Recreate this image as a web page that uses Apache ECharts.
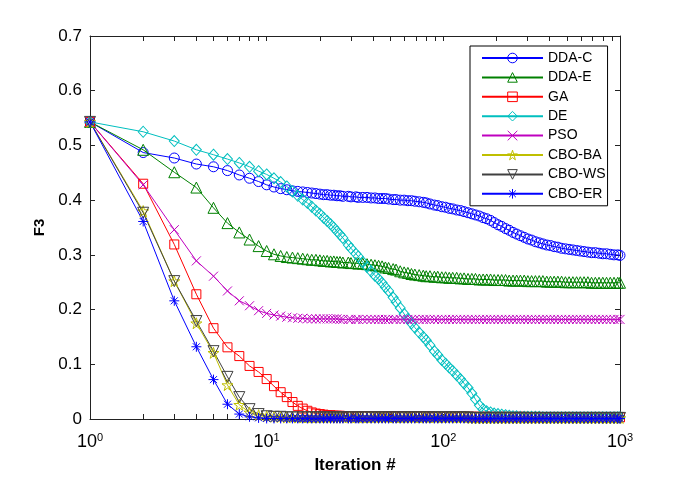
<!DOCTYPE html>
<html><head><meta charset="utf-8">
<script src="https://cdn.jsdelivr.net/npm/echarts@6/dist/echarts.min.js"></script>
<style>html,body{margin:0;padding:0;background:#fff}#c{width:685px;height:479px}</style>
</head><body><div id="c"></div>
<script>
// ---- data ----
const iterations = [1,2,3,4,5,6,7,8,9,10,
 11,12,13,14,15,16,17,18,19,20,
 21,22,23,24,25,26,27,29,30,32,
 33,35,37,39,41,43,45,47,49,52,
 54,57,60,63,66,69,73,77,80,84,
 89,93,98,103,108,113,119,125,131,138,
 145,152,160,168,176,185,194,204,214,225,
 236,248,260,273,287,301,316,332,349,366,
 385,404,424,445,467,491,515,541,568,596,
 626,658,690,725,761,799,839,881,925,971,
 1000];

const seriesNames = ['DDA-C','DDA-E','GA','DE','PSO','CBO-BA','CBO-WS','CBO-ER'];

const ddaC = [0.543,0.487,0.477,0.466,0.461,0.454,0.446,0.440,0.434,0.428,
 0.424,0.421,0.419,0.417,0.416,0.415,0.414,0.413,0.412,0.411,
 0.410,0.410,0.409,0.409,0.408,0.408,0.407,0.407,0.406,0.406,
 0.405,0.405,0.405,0.404,0.404,0.403,0.403,0.403,0.402,0.401,
 0.401,0.400,0.400,0.399,0.399,0.398,0.397,0.396,0.395,0.393,
 0.391,0.390,0.388,0.387,0.385,0.384,0.382,0.381,0.379,0.377,
 0.375,0.373,0.371,0.368,0.366,0.363,0.359,0.355,0.352,0.348,
 0.345,0.341,0.338,0.335,0.332,0.329,0.327,0.324,0.322,0.320,
 0.318,0.317,0.315,0.314,0.312,0.311,0.310,0.309,0.308,0.307,
 0.306,0.305,0.304,0.304,0.303,0.302,0.302,0.301,0.300,0.300,
 0.299];

const ddaE = [0.543,0.492,0.451,0.423,0.386,0.358,0.341,0.328,0.316,0.307,
 0.301,0.298,0.296,0.295,0.294,0.293,0.292,0.291,0.291,0.290,
 0.289,0.289,0.288,0.288,0.287,0.287,0.286,0.286,0.285,0.285,
 0.284,0.284,0.283,0.282,0.281,0.280,0.279,0.277,0.276,0.274,
 0.273,0.270,0.268,0.267,0.265,0.264,0.263,0.262,0.261,0.261,
 0.260,0.260,0.259,0.259,0.258,0.258,0.258,0.257,0.257,0.256,
 0.256,0.256,0.255,0.255,0.255,0.255,0.254,0.254,0.254,0.254,
 0.253,0.253,0.253,0.253,0.253,0.252,0.252,0.252,0.252,0.252,
 0.251,0.251,0.251,0.251,0.251,0.250,0.250,0.250,0.250,0.250,
 0.250,0.250,0.249,0.249,0.249,0.249,0.249,0.249,0.249,0.249,
 0.249];

const ga = [0.543,0.430,0.319,0.228,0.166,0.131,0.115,0.097,0.086,0.073,
 0.060,0.049,0.040,0.031,0.024,0.019,0.015,0.012,0.010,0.009,
 0.008,0.007,0.007,0.006,0.006,0.006,0.005,0.005,0.005,0.005,
 0.005,0.005,0.005,0.005,0.005,0.005,0.005,0.005,0.005,0.005,
 0.005,0.005,0.005,0.005,0.005,0.005,0.005,0.005,0.005,0.005,
 0.004,0.004,0.004,0.004,0.004,0.004,0.004,0.004,0.004,0.004,
 0.004,0.004,0.004,0.004,0.004,0.004,0.004,0.004,0.004,0.004,
 0.004,0.004,0.004,0.004,0.004,0.003,0.003,0.003,0.003,0.003,
 0.003,0.003,0.003,0.003,0.003,0.003,0.003,0.003,0.003,0.003,
 0.003,0.003,0.003,0.003,0.003,0.003,0.003,0.003,0.003,0.003,
 0.003];

const de = [0.543,0.525,0.508,0.492,0.483,0.475,0.468,0.461,0.453,0.447,
 0.440,0.433,0.425,0.416,0.408,0.401,0.395,0.388,0.381,0.375,
 0.368,0.362,0.356,0.350,0.343,0.337,0.331,0.318,0.312,0.302,
 0.297,0.287,0.278,0.270,0.262,0.256,0.249,0.241,0.234,0.222,
 0.214,0.203,0.192,0.183,0.175,0.167,0.158,0.150,0.144,0.135,
 0.124,0.117,0.108,0.101,0.094,0.088,0.080,0.073,0.065,0.057,
 0.047,0.036,0.025,0.018,0.014,0.012,0.010,0.009,0.008,0.007,
 0.006,0.005,0.005,0.004,0.004,0.004,0.004,0.004,0.004,0.003,
 0.003,0.003,0.003,0.003,0.003,0.003,0.003,0.003,0.003,0.003,
 0.003,0.003,0.003,0.003,0.003,0.003,0.003,0.003,0.003,0.003,
 0.003];

const pso = [0.543,0.428,0.346,0.289,0.261,0.234,0.216,0.207,0.198,0.193,
 0.190,0.188,0.186,0.185,0.184,0.184,0.183,0.183,0.183,0.183,
 0.183,0.183,0.183,0.183,0.183,0.182,0.182,0.182,0.182,0.182,
 0.182,0.182,0.182,0.182,0.182,0.182,0.182,0.182,0.182,0.182,
 0.182,0.182,0.182,0.182,0.182,0.182,0.182,0.182,0.182,0.182,
 0.182,0.182,0.182,0.182,0.182,0.182,0.182,0.182,0.182,0.182,
 0.182,0.182,0.182,0.182,0.182,0.182,0.182,0.182,0.182,0.182,
 0.182,0.182,0.182,0.182,0.182,0.182,0.182,0.182,0.182,0.182,
 0.182,0.182,0.182,0.182,0.182,0.182,0.182,0.182,0.182,0.182,
 0.182,0.182,0.182,0.182,0.182,0.182,0.182,0.182,0.182,0.182,
 0.182];

const cboBA = [0.543,0.380,0.252,0.175,0.121,0.062,0.026,0.012,0.007,0.005,
 0.004,0.004,0.003,0.003,0.003,0.003,0.003,0.003,0.003,0.003,
 0.003,0.003,0.003,0.003,0.003,0.003,0.003,0.003,0.003,0.003,
 0.003,0.003,0.003,0.003,0.003,0.003,0.003,0.003,0.003,0.003,
 0.003,0.003,0.003,0.003,0.003,0.003,0.003,0.003,0.003,0.003,
 0.003,0.003,0.003,0.003,0.003,0.003,0.003,0.003,0.003,0.003,
 0.002,0.002,0.002,0.002,0.002,0.002,0.002,0.002,0.002,0.002,
 0.002,0.002,0.002,0.002,0.002,0.002,0.002,0.002,0.002,0.002,
 0.002,0.002,0.002,0.002,0.002,0.002,0.002,0.002,0.002,0.002,
 0.002,0.002,0.002,0.002,0.002,0.002,0.002,0.002,0.002,0.002,
 0.002];

const cboWS = [0.543,0.377,0.252,0.179,0.124,0.077,0.040,0.018,0.009,0.005,
 0.004,0.004,0.003,0.003,0.003,0.003,0.003,0.003,0.003,0.003,
 0.003,0.003,0.003,0.003,0.003,0.003,0.003,0.003,0.003,0.003,
 0.003,0.003,0.003,0.003,0.003,0.003,0.003,0.003,0.003,0.003,
 0.003,0.003,0.003,0.003,0.003,0.003,0.003,0.003,0.003,0.003,
 0.003,0.003,0.003,0.003,0.003,0.003,0.003,0.003,0.003,0.003,
 0.002,0.002,0.002,0.002,0.002,0.002,0.002,0.002,0.002,0.002,
 0.002,0.002,0.002,0.002,0.002,0.002,0.002,0.002,0.002,0.002,
 0.002,0.002,0.002,0.002,0.002,0.002,0.002,0.002,0.002,0.002,
 0.002,0.002,0.002,0.002,0.002,0.002,0.002,0.002,0.002,0.002,
 0.002];

const cboER = [0.543,0.361,0.216,0.132,0.072,0.027,0.009,0.004,0.002,0.001,
 0.001,0.001,0.001,0.001,0.001,0.001,0.001,0.001,0.001,0.001,
 0.001,0.001,0.001,0.001,0.001,0.001,0.001,0.001,0.001,0.001,
 0.001,0.001,0.001,0.001,0.001,0.001,0.001,0.001,0.001,0.001,
 0.001,0.001,0.001,0.001,0.001,0.001,0.001,0.001,0.001,0.001,
 0.001,0.001,0.001,0.001,0.001,0.001,0.001,0.001,0.001,0.001,
 0.001,0.001,0.001,0.001,0.001,0.001,0.001,0.001,0.001,0.001,
 0.001,0.001,0.001,0.001,0.001,0.001,0.001,0.001,0.001,0.001,
 0.001,0.001,0.001,0.001,0.001,0.001,0.001,0.001,0.001,0.001,
 0.001,0.001,0.001,0.001,0.001,0.001,0.001,0.001,0.001,0.001,
 0.001];

const xMajorTicks = [1,10,100,1000];
const xAllTicks = [1,2,3,4,5,6,7,8,9,10,20,30,40,50,60,70,80,90,100,200,300,400,500,600,700,800,900,1000];
const yTicks = [0,0.1,0.2,0.3,0.4,0.5,0.6,0.7];

// ---- styling ----
const FONT = 'Liberation Sans, Arial, Helvetica, sans-serif';
const colors = ['#0000FF','#008000','#FF0000','#00BFBF','#BF00BF','#BFBF00','#404040','#0000FF'];
const symbols = [
  'circle',
  'triangle',
  'rect',
  'diamond',
  'path://M0,0L10,10M10,0L0,10',
  'path://M50,0L61,35L98,35L68,57L79,91L50,70L21,91L32,57L2,35L39,35Z',
  'path://M0,0L10,0L5,10Z',
  'path://M5,0L5,10M0,5L10,5M1.5,1.5L8.5,8.5M8.5,1.5L1.5,8.5'
];
const symSizes = [10, 11, 9, [10,11], 9, 11, 11, 10];
const valueSets = [ddaC, ddaE, ga, de, pso, cboBA, cboWS, cboER];

const series = seriesNames.map((name, k) => ({
  name: name,
  type: 'line',
  xAxisIndex: 0, yAxisIndex: 0,
  data: iterations.map((n, i) => [n, valueSets[k][i]]),
  symbol: symbols[k],
  symbolSize: symSizes[k],
  showSymbol: true,
  showAllSymbol: true,
  clip: false,
  lineStyle: { color: colors[k], width: 1 },
  itemStyle: { color: 'rgba(255,255,255,0)', borderColor: colors[k], borderWidth: 1 },
  emphasis: { disabled: true },
  animation: false
}));

const axisLineStyle = { color: '#222', width: 1 };

const option = {
  animation: false,
  backgroundColor: '#fff',
  textStyle: { fontFamily: FONT },
  grid: { left: 90, right: 65, top: 36, bottom: 59, containLabel: false },
  legend: {
    data: seriesNames,
    orient: 'vertical',
    left: 470, top: 46,
    padding: [5, 2, 5, 11],
    itemWidth: 61, itemHeight: 12, itemGap: 5.4,
    backgroundColor: '#fff',
    borderColor: '#000', borderWidth: 1, borderRadius: 0,
    itemStyle: { color: 'rgba(255,255,255,0)', borderWidth: 1 },
    textStyle: { fontFamily: FONT, fontSize: 14, color: '#000' }
  },
  xAxis: [{
    type: 'log', logBase: 10, min: 1, max: 1000, position: 'bottom',
    name: 'Iteration #', nameLocation: 'middle', nameGap: 38,
    nameTextStyle: { fontFamily: FONT, fontSize: 17, fontWeight: 'bold', color: '#000' },
    axisLine: { show: true, lineStyle: axisLineStyle, onZero: false },
    axisTick: { show: true, inside: true, length: 5, lineStyle: axisLineStyle, customValues: xAllTicks },
    axisLabel: {
      show: true, margin: 13, color: '#000', customValues: xMajorTicks,
      formatter: v => '{b|10}{s|' + Math.round(Math.log10(v)) + '}',
      rich: {
        b: { fontFamily: FONT, fontSize: 18, color: '#000' },
        s: { fontFamily: FONT, fontSize: 11, color: '#000', padding: [0, 0, 10, 0] }
      }
    },
    splitLine: { show: false }, minorTick: { show: false }
  }, {
    type: 'log', logBase: 10, min: 1, max: 1000, position: 'top',
    axisLine: { show: true, lineStyle: axisLineStyle, onZero: false },
    axisTick: { show: true, inside: true, length: 5, lineStyle: axisLineStyle, customValues: xAllTicks },
    axisLabel: { show: false },
    splitLine: { show: false }
  }],
  yAxis: [{
    type: 'value', min: 0, max: 0.7, interval: 0.1, position: 'left',
    name: 'F3', nameLocation: 'middle', nameGap: 36, nameRotate: 90,
    nameTextStyle: { fontFamily: FONT, fontSize: 15, fontWeight: 'bold', color: '#000' },
    axisLine: { show: true, lineStyle: axisLineStyle, onZero: false },
    axisTick: { show: true, inside: true, length: 5, lineStyle: axisLineStyle },
    axisLabel: { show: true, margin: 8, color: '#000', fontFamily: FONT, fontSize: 17,
      customValues: yTicks },
    splitLine: { show: false }
  }, {
    type: 'value', min: 0, max: 0.7, interval: 0.1, position: 'right',
    axisLine: { show: true, lineStyle: axisLineStyle, onZero: false },
    axisTick: { show: true, inside: true, length: 5, lineStyle: axisLineStyle },
    axisLabel: { show: false },
    splitLine: { show: false }
  }],
  series: series
};

const chart = echarts.init(document.getElementById('c'), null, { renderer: 'canvas' });
chart.setOption(option);
</script>
</body></html>
